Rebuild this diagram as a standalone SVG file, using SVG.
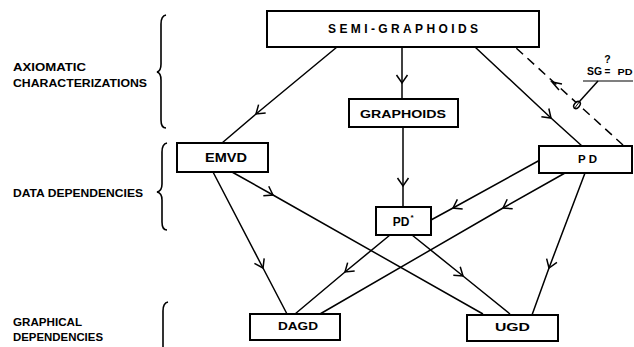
<svg xmlns="http://www.w3.org/2000/svg" width="634" height="347" viewBox="0 0 634 347">
<defs>
<style>
.box{fill:#fff;stroke:#000;stroke-width:2}
.t{font-family:"Liberation Sans",Arial,sans-serif;font-weight:bold;fill:#000;text-anchor:middle}
.lab{font-family:"Liberation Sans",Arial,sans-serif;font-weight:bold;fill:#000;font-size:10px}
.c{fill:none;stroke:#000;stroke-width:1.5;marker-mid:url(#v)}
.br{fill:none;stroke:#000;stroke-width:1.6}
</style>
<marker id="v" viewBox="-10 -7 12 14" markerWidth="12" markerHeight="14" refX="0" refY="0" orient="auto" markerUnits="userSpaceOnUse">
<path d="M-8,-5.5 L0,0 L-8,5.5" fill="none" stroke="#000" stroke-width="1.5"/>
</marker>
</defs>
<g id="braces">
<path class="br" d="M166,15 Q161,16 161,24 L161,64 Q161,71 157,72 Q161,73 161,80 L161,120 Q161,128 166,128"/>
<path class="br" d="M167,143 Q162,144 162,152 L162,184 Q162,191 157,192 Q162,193 162,200 L162,222 Q162,230 167,230"/>
<path class="br" d="M168,302 Q163,303 163,311 L163,347"/>
</g>
<g id="labels">
<text class="lab" x="13" y="71" textLength="73" lengthAdjust="spacingAndGlyphs">AXIOMATIC</text>
<text class="lab" x="13" y="87" textLength="134" lengthAdjust="spacingAndGlyphs">CHARACTERIZATIONS</text>
<text class="lab" x="13" y="197" textLength="130" lengthAdjust="spacingAndGlyphs">DATA DEPENDENCIES</text>
<text class="lab" x="13" y="326" textLength="69" lengthAdjust="spacingAndGlyphs">GRAPHICAL</text>
<text class="lab" x="13" y="341" textLength="90" lengthAdjust="spacingAndGlyphs">DEPENDENCIES</text>
</g>
<g id="connectors">
<path class="c" d="M337,47 L256,114 L222,143"/>
<path class="c" d="M402,47 L402,83 L402,99"/>
<path class="c" d="M475,47 L551,118 L582,146"/>
<path class="c" d="M403,127 L403,186 L403,207"/>
<path class="c" d="M232,172 L273,195 L483,314"/>
<path class="c" d="M213,172 L263,268 L287,314"/>
<path class="c" d="M540,160 L453,208 L431,220"/>
<path class="c" d="M565,173 L503,208 L320,314"/>
<path class="c" d="M585,173 L549,268 L532,315"/>
<path class="c" d="M390,235 L345,272 L295,314"/>
<path class="c" d="M412,235 L463,276 L510,314"/>
<path fill="none" stroke="#000" stroke-width="1.5" stroke-dasharray="9,6" d="M623,145 L515,47"/>
<path fill="none" stroke="#000" stroke-width="1.5" d="M559,90 L552,82 L562,84"/>
</g>
<g id="sg-label">
<ellipse cx="577" cy="105" rx="4" ry="2.6" transform="rotate(-50 577 105)" fill="#fff" stroke="#000" stroke-width="1.5"/>
<line x1="574" y1="109" x2="580" y2="101" stroke="#000" stroke-width="1"/>
<line x1="579" y1="102" x2="598" y2="81" stroke="#000" stroke-width="1.5"/>
<line x1="583" y1="81" x2="633" y2="81" stroke="#000" stroke-width="1.2"/>
<text class="t" x="594.5" y="75" font-size="11.5" textLength="15" lengthAdjust="spacingAndGlyphs">SG</text>
<text class="t" x="607.5" y="75" font-size="10">=</text>
<text class="t" x="607.5" y="63" font-size="10.5">?</text>
<text class="t" x="625" y="75" font-size="9.5" textLength="15" lengthAdjust="spacingAndGlyphs">PD</text>
</g>
<g id="semi-graphoids">
<rect class="box" x="267" y="11" width="272" height="36"/>
<text class="t" x="403" y="33" font-size="12" textLength="150" lengthAdjust="spacing">SEMI-GRAPHOIDS</text>
</g>
<g id="graphoids">
<rect class="box" x="349" y="99" width="109" height="28"/>
<text class="t" x="403" y="118" font-size="11.5" textLength="86" lengthAdjust="spacingAndGlyphs">GRAPHOIDS</text>
</g>
<g id="emvd">
<rect class="box" x="177" y="143" width="91" height="29"/>
<text class="t" x="226" y="162" font-size="12" textLength="42" lengthAdjust="spacingAndGlyphs">EMVD</text>
</g>
<g id="pd">
<rect class="box" x="539" y="146" width="93" height="27"/>
<text class="t" x="587.5" y="163" font-size="11.5" textLength="19" lengthAdjust="spacing">PD</text>
</g>
<g id="pdstar">
<rect class="box" x="376" y="207" width="55" height="28"/>
<text class="t" x="401" y="226" font-size="12">PD</text>
<text class="t" x="412" y="220" font-size="8">*</text>
</g>
<g id="dagd">
<rect class="box" x="250" y="314" width="90" height="26"/>
<text class="t" x="298" y="330" font-size="11" textLength="40" lengthAdjust="spacingAndGlyphs">DAGD</text>
</g>
<g id="ugd">
<rect class="box" x="467" y="315" width="91" height="26"/>
<text class="t" x="512.5" y="331" font-size="11.5" textLength="35" lengthAdjust="spacingAndGlyphs">UGD</text>
</g>
</svg>
